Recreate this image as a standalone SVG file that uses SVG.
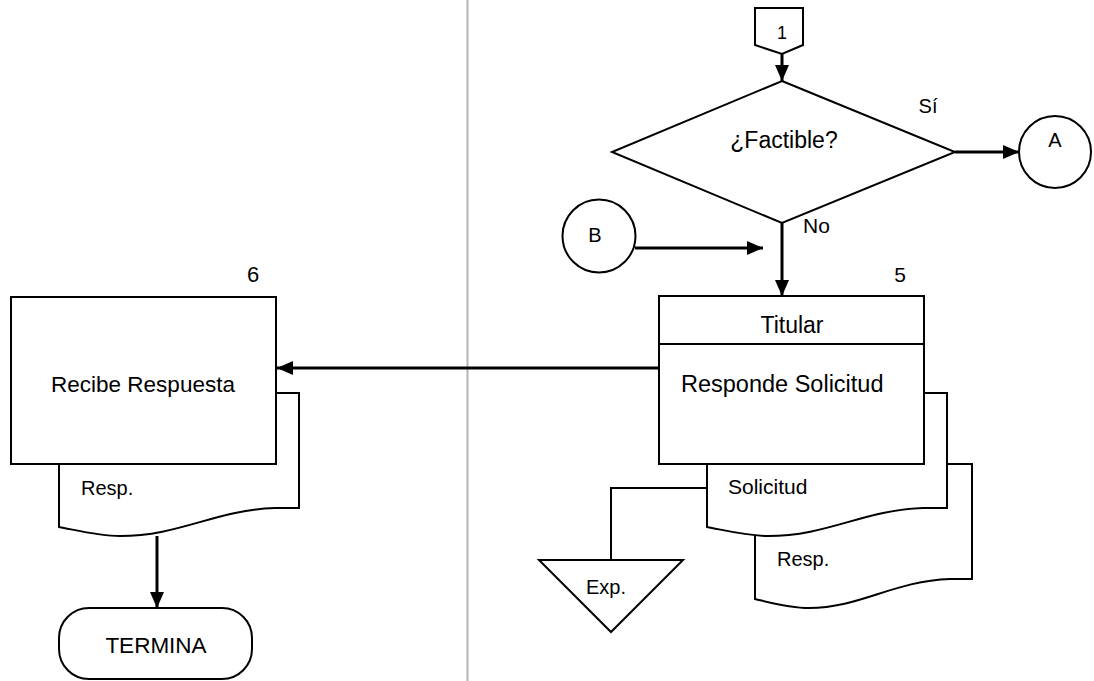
<svg xmlns="http://www.w3.org/2000/svg" width="1094" height="681" viewBox="0 0 1094 681">
<defs>
<style>
.shape{fill:#fff;stroke:#000;stroke-width:2}
.conn{fill:none;stroke:#000;stroke-width:3}
.thin{fill:none;stroke:#000;stroke-width:2}
text{font-family:"Liberation Sans",Arial,sans-serif;fill:#000}
.c{text-anchor:middle}
</style>
<marker id="arr" markerUnits="userSpaceOnUse" viewBox="0 0 16 14" refX="16" refY="7" markerWidth="16" markerHeight="14" orient="auto">
<path d="M0,0 L16,7 L0,14 z" fill="#000"/>
</marker>
</defs>
<rect width="1094" height="681" fill="#fff"/>
<line x1="467.5" y1="0" x2="467.5" y2="681" stroke="#b4b4b4" stroke-width="2"/>

<g id="connectors">
<line class="conn" x1="782" y1="54" x2="782" y2="81" marker-end="url(#arr)"/>
<line class="conn" x1="955" y1="152" x2="1019" y2="152" marker-end="url(#arr)"/>
<line class="conn" x1="782" y1="223" x2="782" y2="296" marker-end="url(#arr)"/>
<line class="conn" x1="635" y1="248" x2="763" y2="248" marker-end="url(#arr)"/>
<line class="conn" x1="659" y1="368" x2="277" y2="368" marker-end="url(#arr)"/>
<line class="conn" x1="157" y1="536" x2="157" y2="608" marker-end="url(#arr)"/>
<polyline class="thin" points="707,488 611,488 611,560"/>
</g>

<g id="offpage1">
<polygon class="shape" points="755,8 803,8 803,45 782,54 755,45"/>
<text class="c" x="782" y="39" font-size="18">1</text>
</g>

<g id="decision">
<polygon class="shape" points="782,81 955,152 782,223 612,152"/>
<text class="c" x="784" y="148" font-size="23">¿Factible?</text>
<text class="c" x="928" y="113" font-size="20">Sí</text>
<text x="803" y="233" font-size="21">No</text>
</g>

<g id="connectorA">
<circle class="shape" cx="1055" cy="152" r="36"/>
<text class="c" x="1055" y="147" font-size="20">A</text>
</g>

<g id="connectorB">
<circle class="shape" cx="599" cy="236" r="36.5"/>
<text class="c" x="595" y="242" font-size="20">B</text>
</g>

<g id="docResp5">
<path class="shape" d="M755,464 L972,464 L972,579 L950,579 C893,581 860,608 809,608 C790,608 772,603 755,599 Z"/>
<text x="777" y="566" font-size="20">Resp.</text>
</g>

<g id="docSolicitud">
<path class="shape" d="M707,393 L947,393 L947,508 L923,508 C863,510 828,536 768,536 C748,536 728,531 707,527 Z"/>
<text x="728" y="494" font-size="21">Solicitud</text>
</g>

<g id="step5">
<rect class="shape" x="659" y="296" width="265" height="168"/>
<line class="thin" x1="659" y1="344" x2="924" y2="344"/>
<text class="c" x="792" y="333" font-size="23">Titular</text>
<text x="681" y="392" font-size="23.5">Responde Solicitud</text>
<text class="c" x="900" y="282" font-size="21">5</text>
</g>

<g id="archivo">
<polygon class="shape" points="539,560 683,560 611,632"/>
<text class="c" x="606" y="594" font-size="20">Exp.</text>
</g>

<g id="docResp6">
<path class="shape" d="M59,393 L299,393 L299,508 L275,508 C215,510 180,536 120,536 C100,536 80,531 59,527 Z"/>
<text x="81" y="495" font-size="20">Resp.</text>
</g>

<g id="step6">
<rect class="shape" x="11" y="297" width="265" height="167"/>
<text class="c" x="143" y="392" font-size="22.5">Recibe Respuesta</text>
<text class="c" x="253" y="282" font-size="22">6</text>
</g>

<g id="termina">
<rect class="shape" x="59" y="608" width="193" height="71" rx="30" ry="30"/>
<text class="c" x="156" y="653" font-size="22.5">TERMINA</text>
</g>
</svg>
